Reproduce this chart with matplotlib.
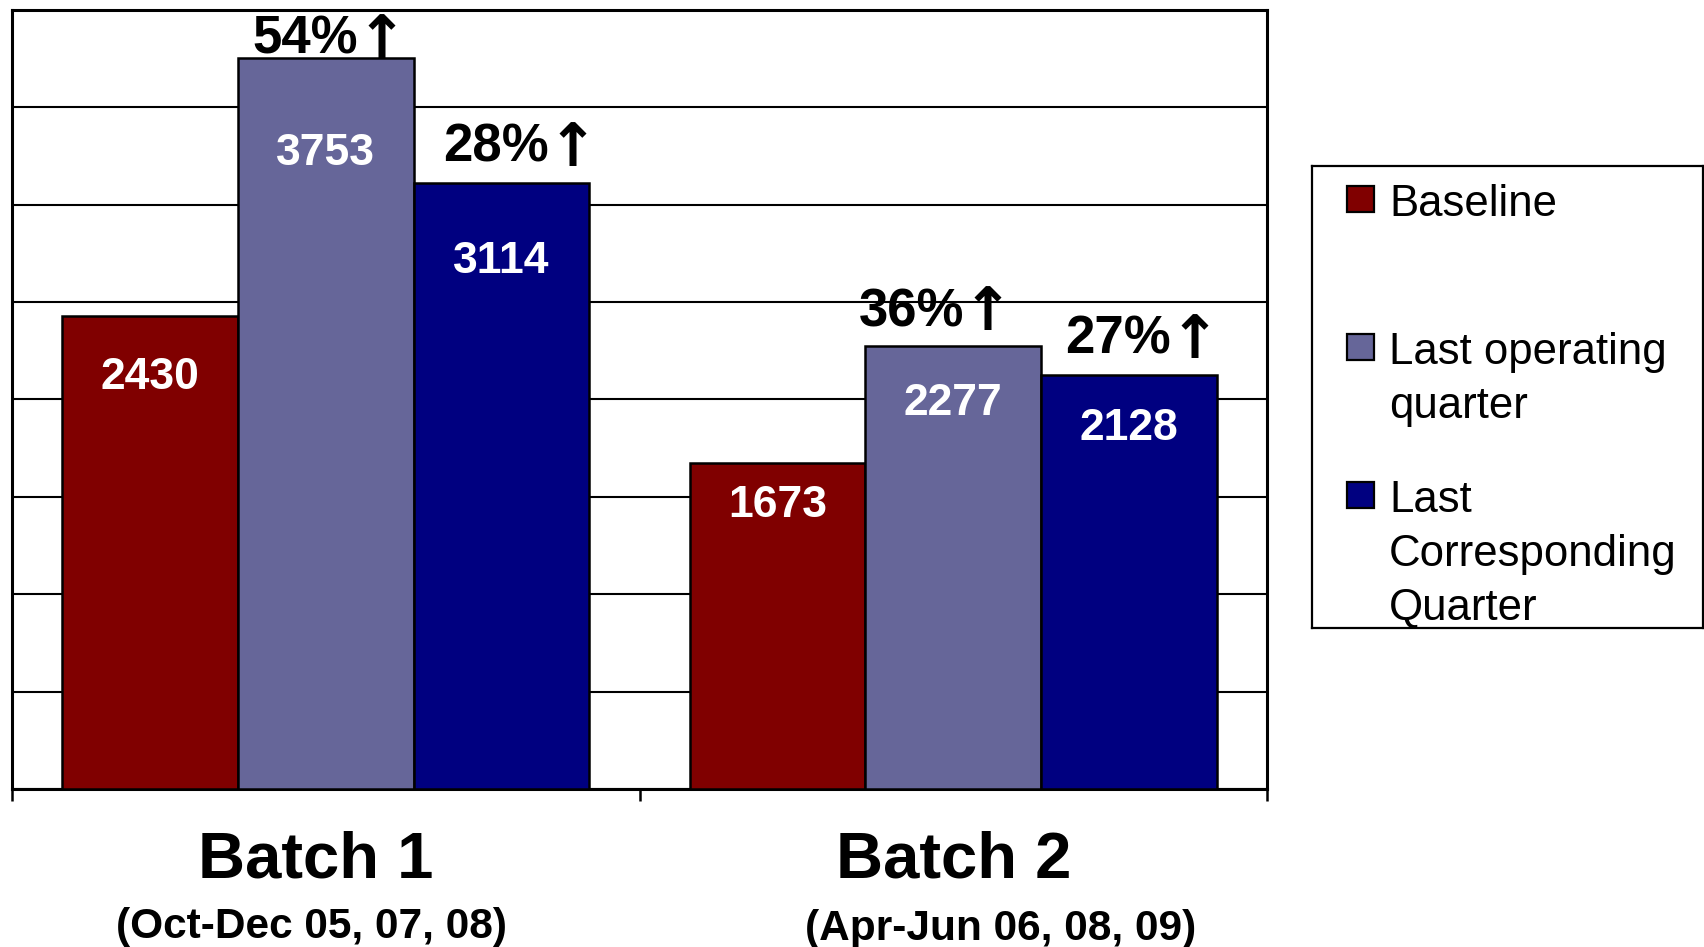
import matplotlib
matplotlib.use("Agg")
import matplotlib.pyplot as plt
from matplotlib.patches import Rectangle
import numpy as np

# ---------------- data ----------------
categories = ["Batch 1", "Batch 2"]
sub_labels = ["(Oct-Dec 05, 07, 08)", "(Apr-Jun 06, 08, 09)"]
series_names = ["Baseline", "Last operating\nquarter", "Last\nCorresponding\nQuarter"]
baseline = [2430, 1673]
last_operating = [3753, 2277]
last_corresponding = [3114, 2128]
colors = ["#800000", "#666699", "#000080"]

# ---------------- style ----------------
FONT = ["Liberation Sans", "DejaVu Sans"]
plt.rcParams["font.family"] = FONT

fig = plt.figure(figsize=(17.04, 9.47), dpi=100)
ax = fig.add_axes([12 / 1704, (947 - 789) / 947, (1267 - 12) / 1704, (789 - 10) / 947])

series = [baseline, last_operating, last_corresponding]
x = np.arange(len(categories))
bw = 0.28
offsets = [-bw, 0.0, bw]

for vals, off, col in zip(series, offsets, colors):
    ax.bar(x + off, vals, width=bw, color=col, edgecolor="black", linewidth=1.8, zorder=3)

ax.set_xlim(-0.5, len(categories) - 0.5)
ax.set_ylim(0, 4000)
ax.set_yticks(np.arange(0, 4001, 500))
ax.yaxis.grid(True, color="black", linewidth=1.5)
ax.set_axisbelow(True)
ax.tick_params(axis="y", length=0, labelleft=False)
ax.set_xticks(np.arange(-0.5, len(categories), 1.0))
ax.tick_params(axis="x", direction="out", length=8.5, width=1.8, labelbottom=False)
for s in ax.spines.values():
    s.set_linewidth(2.2)
    s.set_color("black")

# values inside bars
for vals, off in zip(series, offsets):
    for xi, v in zip(x, vals):
        ax.text(xi + off, 0.87 * v, f"{v}", ha="center", va="center", color="white",
                fontsize=32, fontweight="bold", zorder=5)

# percentage increase labels (number + arrow)
PCT_OFFSETS = {(1, 0): (3, 3), (2, 0): (14, 15), (1, 1): (-12, 14), (2, 1): (10, 15)}
SPLIT = 20  # points right of label centre where number ends and arrow starts
for si in (1, 2):
    for ci in range(len(categories)):
        v = series[si][ci]
        pct = round((v / baseline[ci] - 1) * 100)
        dx, dy = PCT_OFFSETS[(si, ci)]
        xy = (x[ci] + offsets[si], v)
        ax.annotate(f"{pct}%", xy=xy, xytext=(dx + SPLIT, dy),
                    textcoords="offset points", ha="right", va="baseline",
                    fontsize=38, fontweight="bold", color="black", zorder=6,
                    annotation_clip=False)
        ax.annotate("\u2191", xy=xy, xytext=(dx + SPLIT - 1, dy - 3),
                    textcoords="offset points", ha="left", va="baseline",
                    fontsize=43, fontweight="bold", color="black", zorder=6,
                    family=["DejaVu Sans"], annotation_clip=False)

# category labels
trans = ax.get_xaxis_transform()
CAT_DX = [-7, 0]
SUB_DX = [-10, 34]
SUB_DY = [-107, -109]
for ci, (cat, sub) in enumerate(zip(categories, sub_labels)):
    ax.annotate(cat, xy=(x[ci], 0), xycoords=trans, xytext=(CAT_DX[ci], -64),
                textcoords="offset points", ha="center", va="baseline",
                fontsize=47, fontweight="bold", annotation_clip=False)
    ax.annotate(sub, xy=(x[ci], 0), xycoords=trans, xytext=(SUB_DX[ci], SUB_DY[ci]),
                textcoords="offset points", ha="center", va="baseline",
                fontsize=30.5, fontweight="bold", annotation_clip=False)

# ---------------- legend (drawn in its own axes, pixel-like units) ----------------
lx0, ly0, lx1, ly1 = 1312, 166, 1703, 628
lax = fig.add_axes([lx0 / 1704, (947 - ly1) / 947, (lx1 - lx0) / 1704, (ly1 - ly0) / 947])
lax.set_xlim(0, lx1 - lx0)
lax.set_ylim(ly1 - ly0, 0)
lax.set_xticks([])
lax.set_yticks([])
for s in lax.spines.values():
    s.set_linewidth(1.6)
    s.set_color("black")

first_baselines = [215 - ly0, 363 - ly0, 511 - ly0]
for name, col, yb in zip(series_names, colors, first_baselines):
    lax.add_patch(Rectangle((35, yb - 29), 27, 26, facecolor=col, edgecolor="black", linewidth=1.6))
    lax.text(77, yb - 31, name, ha="left", va="top", fontsize=31.5, linespacing=1.4)

fig.savefig("out.png", dpi=100)
